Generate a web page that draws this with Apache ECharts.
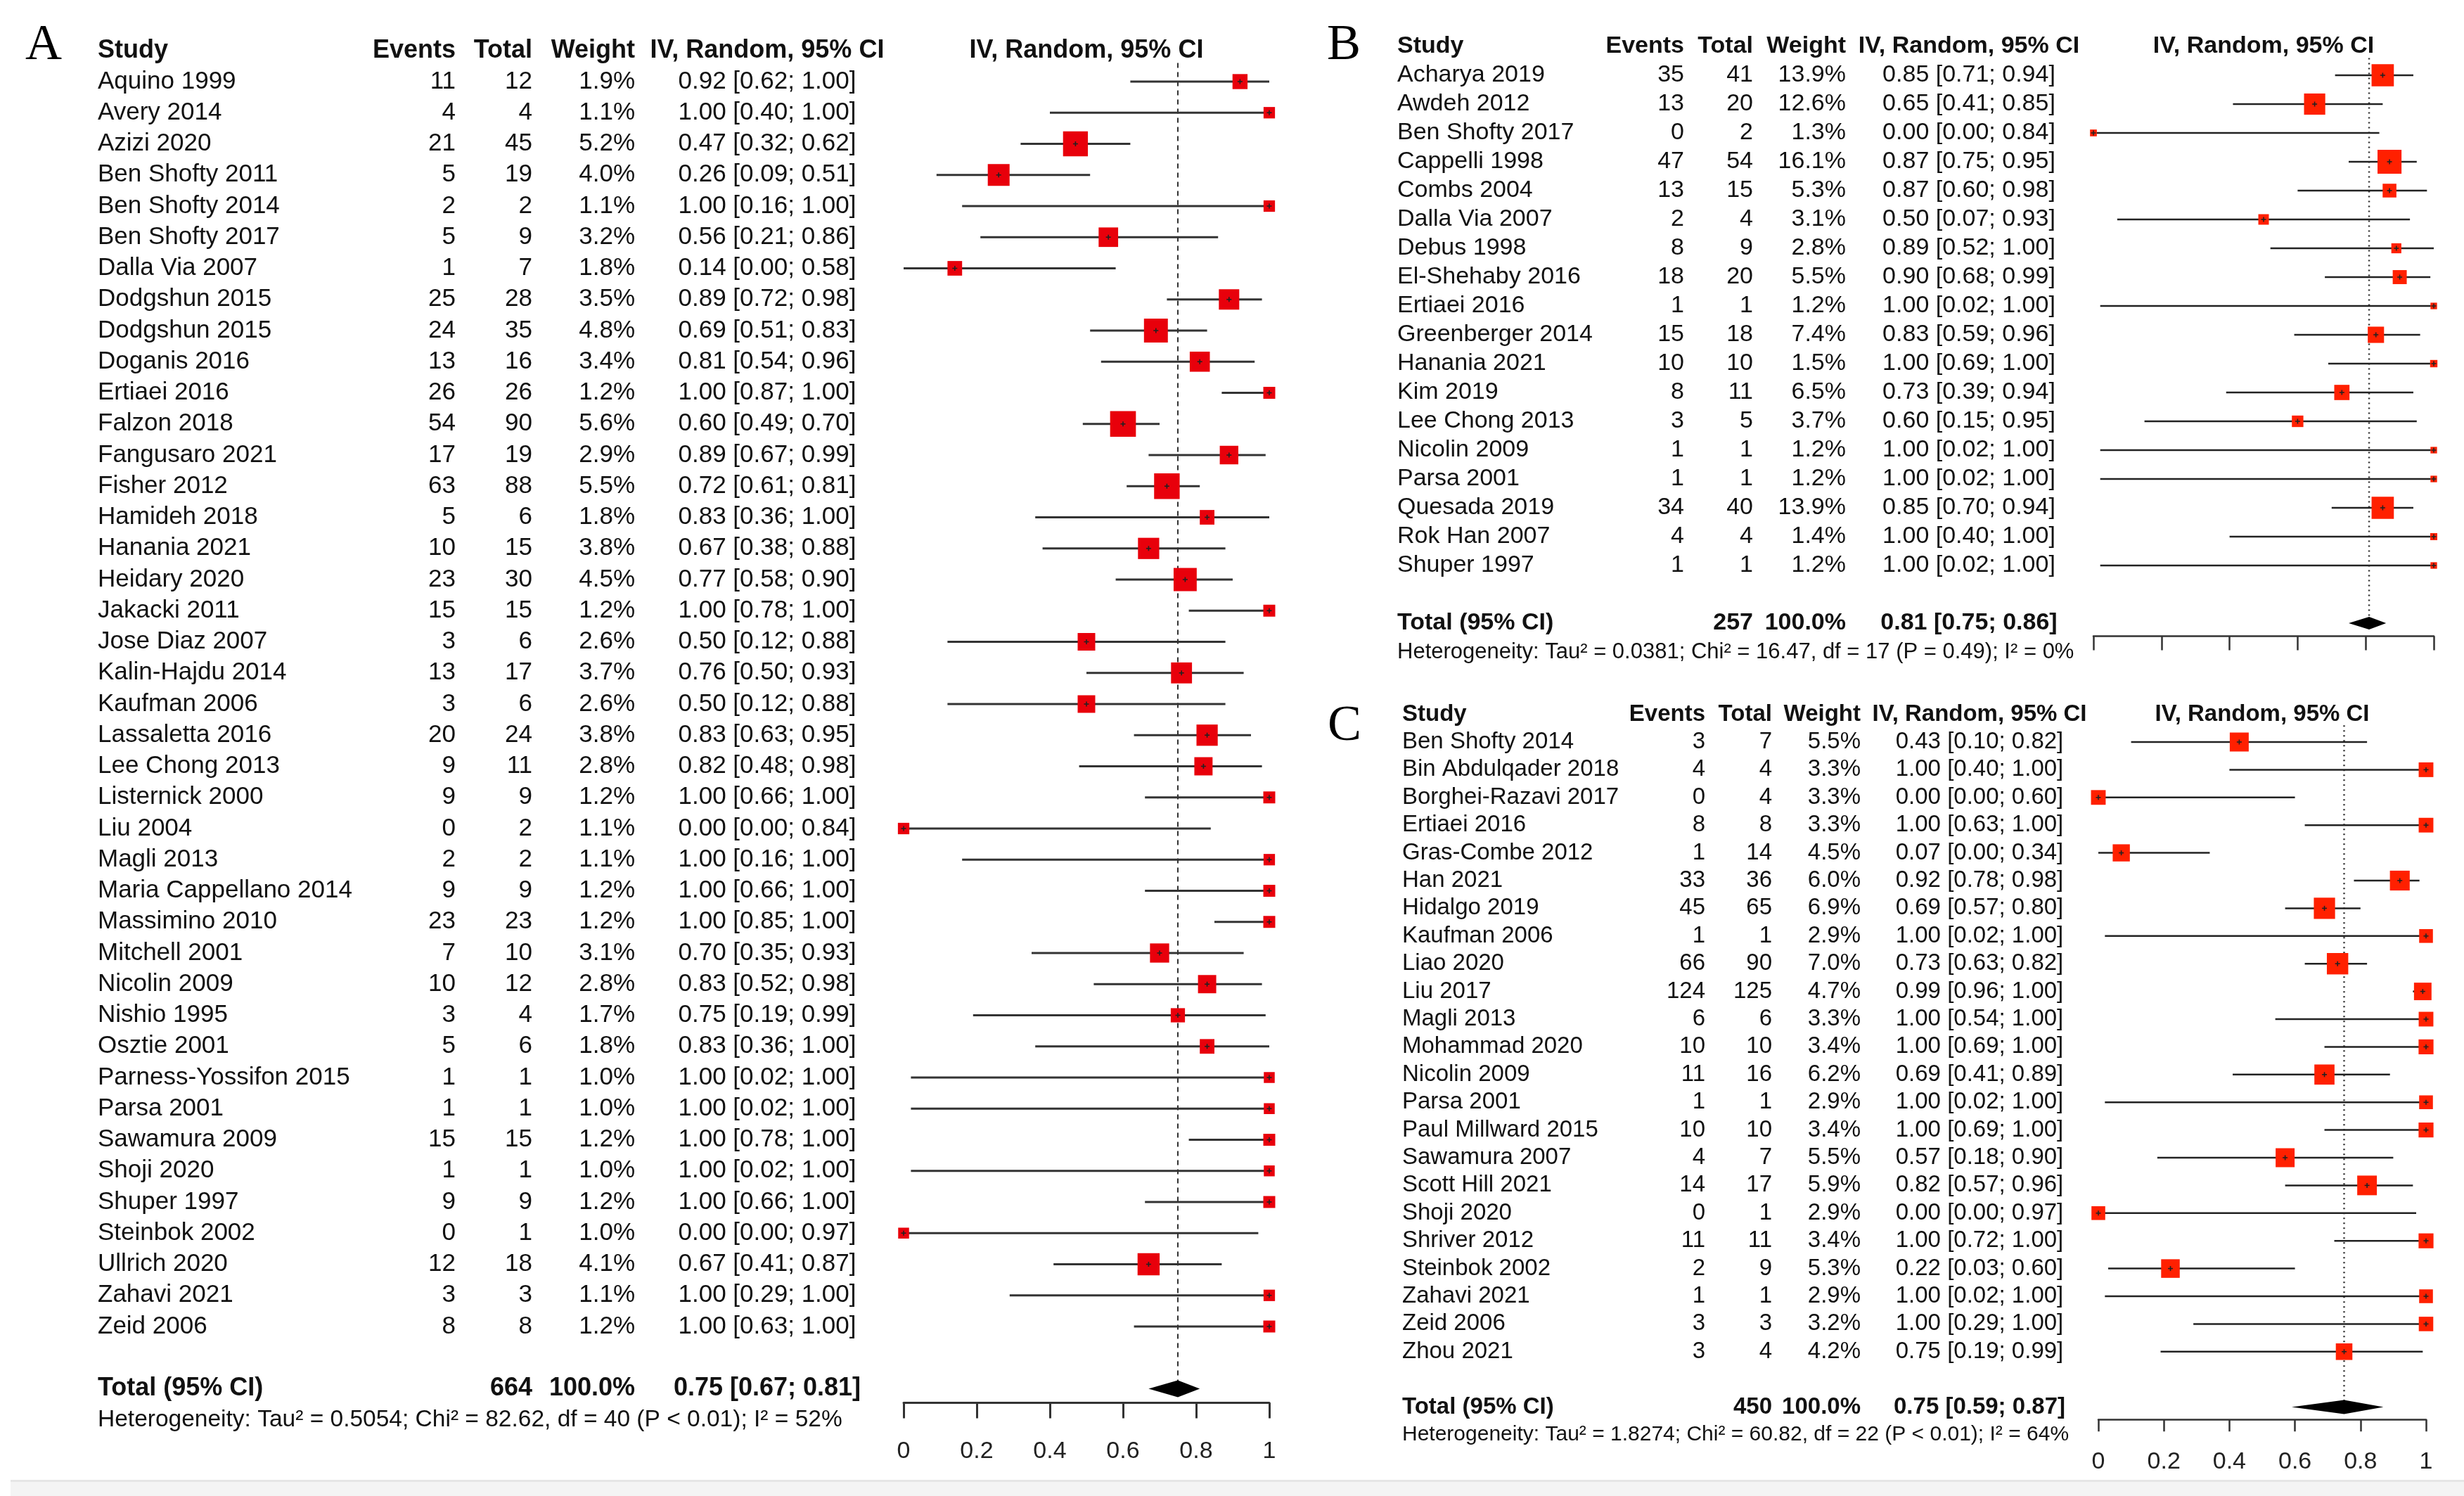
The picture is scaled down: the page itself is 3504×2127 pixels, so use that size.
<!DOCTYPE html>
<html><head><meta charset="utf-8">
<script src="https://cdn.jsdelivr.net/npm/echarts@6/dist/echarts.min.js"></script>
<style>html,body{margin:0;padding:0;background:#fff}#c{width:3504px;height:2127px}</style>
</head><body><div id="c"></div>
<script>
// ---------------- DATA ----------------
// Panel A
const aStudies = ['Aquino 1999','Avery 2014','Azizi 2020','Ben Shofty 2011','Ben Shofty 2014','Ben Shofty 2017','Dalla Via 2007','Dodgshun 2015','Dodgshun 2015','Doganis 2016','Ertiaei 2016','Falzon 2018','Fangusaro 2021','Fisher 2012','Hamideh 2018','Hanania 2021','Heidary 2020','Jakacki 2011','Jose Diaz 2007','Kalin-Hajdu 2014','Kaufman 2006','Lassaletta 2016','Lee Chong 2013','Listernick 2000','Liu 2004','Magli 2013','Maria Cappellano 2014','Massimino 2010','Mitchell 2001','Nicolin 2009','Nishio 1995','Osztie 2001','Parness-Yossifon 2015','Parsa 2001','Sawamura 2009','Shoji 2020','Shuper 1997','Steinbok 2002','Ullrich 2020','Zahavi 2021','Zeid 2006'];
const aEvents  = [11,4,21,5,2,5,1,25,24,13,26,54,17,63,5,10,23,15,3,13,3,20,9,9,0,2,9,23,7,10,3,5,1,1,15,1,9,0,12,3,8];
const aTotals  = [12,4,45,19,2,9,7,28,35,16,26,90,19,88,6,15,30,15,6,17,6,24,11,9,2,2,9,23,10,12,4,6,1,1,15,1,9,1,18,3,8];
const aWeights = [1.9,1.1,5.2,4.0,1.1,3.2,1.8,3.5,4.8,3.4,1.2,5.6,2.9,5.5,1.8,3.8,4.5,1.2,2.6,3.7,2.6,3.8,2.8,1.2,1.1,1.1,1.2,1.2,3.1,2.8,1.7,1.8,1.0,1.0,1.2,1.0,1.2,1.0,4.1,1.1,1.2];
const aEst     = [0.92,1.00,0.47,0.26,1.00,0.56,0.14,0.89,0.69,0.81,1.00,0.60,0.89,0.72,0.83,0.67,0.77,1.00,0.50,0.76,0.50,0.83,0.82,1.00,0.00,1.00,1.00,1.00,0.70,0.83,0.75,0.83,1.00,1.00,1.00,1.00,1.00,0.00,0.67,1.00,1.00];
const aLower   = [0.62,0.40,0.32,0.09,0.16,0.21,0.00,0.72,0.51,0.54,0.87,0.49,0.67,0.61,0.36,0.38,0.58,0.78,0.12,0.50,0.12,0.63,0.48,0.66,0.00,0.16,0.66,0.85,0.35,0.52,0.19,0.36,0.02,0.02,0.78,0.02,0.66,0.00,0.41,0.29,0.63];
const aUpper   = [1.00,1.00,0.62,0.51,1.00,0.86,0.58,0.98,0.83,0.96,1.00,0.70,0.99,0.81,1.00,0.88,0.90,1.00,0.88,0.93,0.88,0.95,0.98,1.00,0.84,1.00,1.00,1.00,0.93,0.98,0.99,1.00,1.00,1.00,1.00,1.00,1.00,0.97,0.87,1.00,1.00];
const aPooled  = [0.75, 0.67, 0.81];           // estimate, lower, upper
const aTotalN  = 664;
const aHet     = 'Heterogeneity: Tau² = 0.5054; Chi² = 82.62, df = 40 (P < 0.01); I² = 52%';

// Panel B
const bStudies = ['Acharya 2019','Awdeh 2012','Ben Shofty 2017','Cappelli 1998','Combs 2004','Dalla Via 2007','Debus 1998','El-Shehaby 2016','Ertiaei 2016','Greenberger 2014','Hanania 2021','Kim 2019','Lee Chong 2013','Nicolin 2009','Parsa 2001','Quesada 2019','Rok Han 2007','Shuper 1997'];
const bEvents  = [35,13,0,47,13,2,8,18,1,15,10,8,3,1,1,34,4,1];
const bTotals  = [41,20,2,54,15,4,9,20,1,18,10,11,5,1,1,40,4,1];
const bWeights = [13.9,12.6,1.3,16.1,5.3,3.1,2.8,5.5,1.2,7.4,1.5,6.5,3.7,1.2,1.2,13.9,1.4,1.2];
const bEst     = [0.85,0.65,0.00,0.87,0.87,0.50,0.89,0.90,1.00,0.83,1.00,0.73,0.60,1.00,1.00,0.85,1.00,1.00];
const bLower   = [0.71,0.41,0.00,0.75,0.60,0.07,0.52,0.68,0.02,0.59,0.69,0.39,0.15,0.02,0.02,0.70,0.40,0.02];
const bUpper   = [0.94,0.85,0.84,0.95,0.98,0.93,1.00,0.99,1.00,0.96,1.00,0.94,0.95,1.00,1.00,0.94,1.00,1.00];
const bPooled  = [0.81, 0.75, 0.86];
const bTotalN  = 257;
const bHet     = 'Heterogeneity: Tau² = 0.0381; Chi² = 16.47, df = 17 (P = 0.49); I² = 0%';

// Panel C
const cStudies = ['Ben Shofty 2014','Bin Abdulqader 2018','Borghei-Razavi 2017','Ertiaei 2016','Gras-Combe 2012','Han 2021','Hidalgo 2019','Kaufman 2006','Liao 2020','Liu 2017','Magli 2013','Mohammad 2020','Nicolin 2009','Parsa 2001','Paul Millward 2015','Sawamura 2007','Scott Hill 2021','Shoji 2020','Shriver 2012','Steinbok 2002','Zahavi 2021','Zeid 2006','Zhou 2021'];
const cEvents  = [3,4,0,8,1,33,45,1,66,124,6,10,11,1,10,4,14,0,11,2,1,3,3];
const cTotals  = [7,4,4,8,14,36,65,1,90,125,6,10,16,1,10,7,17,1,11,9,1,3,4];
const cWeights = [5.5,3.3,3.3,3.3,4.5,6.0,6.9,2.9,7.0,4.7,3.3,3.4,6.2,2.9,3.4,5.5,5.9,2.9,3.4,5.3,2.9,3.2,4.2];
const cEst     = [0.43,1.00,0.00,1.00,0.07,0.92,0.69,1.00,0.73,0.99,1.00,1.00,0.69,1.00,1.00,0.57,0.82,0.00,1.00,0.22,1.00,1.00,0.75];
const cLower   = [0.10,0.40,0.00,0.63,0.00,0.78,0.57,0.02,0.63,0.96,0.54,0.69,0.41,0.02,0.69,0.18,0.57,0.00,0.72,0.03,0.02,0.29,0.19];
const cUpper   = [0.82,1.00,0.60,1.00,0.34,0.98,0.80,1.00,0.82,1.00,1.00,1.00,0.89,1.00,1.00,0.90,0.96,0.97,1.00,0.60,1.00,1.00,0.99];
const cPooled  = [0.75, 0.59, 0.87];
const cTotalN  = 450;
const cHet     = 'Heterogeneity: Tau² = 1.8274; Chi² = 60.82, df = 22 (P < 0.01); I² = 64%';

const xTicks = [0, 0.2, 0.4, 0.6, 0.8, 1];
const headers = ['Study', 'Events', 'Total', 'Weight', 'IV, Random, 95% CI'];

// ---------------- LAYOUT / STYLE ----------------
const FONT = '"Liberation Sans", Arial, Helvetica, sans-serif';
const layouts = [
  {letter:'A', letterX:36, letterY:69, gridLeft:1285, gridWidth:520, row0:116, rowH:44.25,
   colStudy:139, colEvents:648, colTotal:757, colWeight:903, colCI:1091,
   fs:35, fsBold:36, hetFs:33.5, boxK:15.5, ciW:3, ciColor:'#333', red:'#e8000b',
   refDash:[7,6], refW:2, diamondH:12, axisW:3, tickLen:22, showLabels:true, labelMargin:52, labelFs:34},
  {letter:'B', letterX:1887, letterY:69, gridLeft:2977, gridWidth:484, row0:107, rowH:41,
   colStudy:1987, colEvents:2395, colTotal:2493, colWeight:2625, colCI:2800,
   fs:34, fsBold:34, hetFs:31, boxK:8.5, ciW:2.5, ciColor:'#222', red:'#ff2000',
   refDash:[2,5], refW:2.5, diamondH:9, axisW:2.5, tickLen:20, showLabels:false, labelMargin:43, labelFs:34},
  {letter:'C', letterX:1888, letterY:1037, gridLeft:2984, gridWidth:466, row0:1055, rowH:39.4,
   colStudy:1994, colEvents:2425, colTotal:2520, colWeight:2646, colCI:2815,
   fs:33, fsBold:33, hetFs:30, boxK:11.5, ciW:2.5, ciColor:'#222', red:'#ff2000',
   refDash:[2,5], refW:2.5, diamondH:10, axisW:2.5, tickLen:17, showLabels:true, labelMargin:43, labelFs:34}
];
const panels = [
  {studies:aStudies, events:aEvents, totals:aTotals, weights:aWeights, est:aEst, lower:aLower, upper:aUpper, pooled:aPooled, totalN:aTotalN, het:aHet},
  {studies:bStudies, events:bEvents, totals:bTotals, weights:bWeights, est:bEst, lower:bLower, upper:bUpper, pooled:bPooled, totalN:bTotalN, het:bHet},
  {studies:cStudies, events:cEvents, totals:cTotals, weights:cWeights, est:cEst, lower:cLower, upper:cUpper, pooled:cPooled, totalN:cTotalN, het:cHet}
];

function txt(x, y, s, size, bold, align) {
  return {type:'text', x:x, y:y, silent:true,
    style:{text:s, fill:'#111', fontSize:size, fontFamily:FONT, fontWeight:bold ? 'bold' : 'normal',
           align:align || 'left', verticalAlign:'middle'}};
}
const f2 = v => v.toFixed(2);
const ciText = (e, l, u) => f2(e) + ' [' + f2(l) + '; ' + f2(u) + ']';

const grids = [], xAxes = [], yAxes = [], series = [], graphics = [];

panels.forEach((p, k) => {
  const L = layouts[k];
  const n = p.studies.length;
  const yMin = -1.5, yMax = n + 1.45;
  grids.push({left:L.gridLeft, width:L.gridWidth, top:L.row0 + yMin * L.rowH,
              height:(yMax - yMin) * L.rowH, containLabel:false, outerBoundsMode:'none'});
  xAxes.push({gridIndex:k, type:'value', min:0, max:1, interval:0.2, position:'bottom',
    axisLine:{show:true, onZero:false, lineStyle:{color:'#333', width:L.axisW}},
    axisTick:{show:true, inside:false, length:L.tickLen, lineStyle:{color:'#333', width:L.axisW}},
    axisLabel:{show:L.showLabels, margin:L.labelMargin, fontSize:L.labelFs, fontFamily:FONT, color:'#222',
               formatter:v => String(+v.toFixed(1)), customValues:xTicks},
    splitLine:{show:false}});
  yAxes.push({gridIndex:k, type:'value', min:yMin, max:yMax, inverse:true, show:false});

  // reference (pooled estimate) line
  series.push({type:'line', xAxisIndex:k, yAxisIndex:k, z:1, silent:true, symbol:'none',
    data:[[p.pooled[0], -0.6], [p.pooled[0], n + 1]],
    lineStyle:{color:'#333', width:L.refW, type:L.refDash}});

  // header row
  series.push({type:'custom', xAxisIndex:k, yAxisIndex:k, z:3, silent:true, clip:false,
    data:[[0, -1]], encode:{x:0, y:1},
    renderItem:(params, api) => {
      const y = api.coord([0, api.value(1)])[1];
      const cx = api.coord([0.5, 0])[0];
      return {type:'group', children:[
        txt(L.colStudy, y, headers[0], L.fsBold, true, 'left'),
        txt(L.colEvents, y, headers[1], L.fsBold, true, 'right'),
        txt(L.colTotal, y, headers[2], L.fsBold, true, 'right'),
        txt(L.colWeight, y, headers[3], L.fsBold, true, 'right'),
        txt(L.colCI, y, headers[4], L.fsBold, true, 'center'),
        txt(cx, y, headers[4], L.fsBold, true, 'center')
      ]};
    }});

  // table text rows
  series.push({type:'custom', xAxisIndex:k, yAxisIndex:k, z:3, silent:true, clip:false,
    data:p.studies.map((s, i) => [0, i]), encode:{x:0, y:1},
    renderItem:(params, api) => {
      const i = params.dataIndex;
      const y = api.coord([0, api.value(1)])[1];
      return {type:'group', children:[
        txt(L.colStudy, y, p.studies[i], L.fs, false, 'left'),
        txt(L.colEvents, y, String(p.events[i]), L.fs, false, 'right'),
        txt(L.colTotal, y, String(p.totals[i]), L.fs, false, 'right'),
        txt(L.colWeight, y, p.weights[i].toFixed(1) + '%', L.fs, false, 'right'),
        txt(L.colCI, y, ciText(p.est[i], p.lower[i], p.upper[i]), L.fs, false, 'center')
      ]};
    }});

  // forest marks: CI line + weighted square
  series.push({type:'custom', xAxisIndex:k, yAxisIndex:k, z:2, silent:true, clip:false,
    data:p.studies.map((s, i) => [p.est[i], i, p.lower[i], p.upper[i], p.weights[i]]),
    encode:{x:0, y:1},
    renderItem:(params, api) => {
      const r = api.value(1);
      const c = api.coord([api.value(0), r]);
      const lo = api.coord([api.value(2), r]);
      const hi = api.coord([api.value(3), r]);
      const s = L.boxK * Math.sqrt(api.value(4));
      return {type:'group', children:[
        {type:'line', shape:{x1:lo[0], y1:lo[1], x2:hi[0], y2:hi[1]}, style:{stroke:L.ciColor, lineWidth:L.ciW}},
        {type:'rect', shape:{x:c[0] - s / 2, y:c[1] - s / 2, width:s, height:s}, style:{fill:L.red}},
        {type:'line', shape:{x1:c[0], y1:c[1] - 3.5, x2:c[0], y2:c[1] + 3.5}, style:{stroke:'#222', lineWidth:1.6}},
        {type:'line', shape:{x1:c[0] - 3.5, y1:c[1], x2:c[0] + 3.5, y2:c[1]}, style:{stroke:'#222', lineWidth:1.6}}
      ]};
    }});

  // pooled total row + diamond + heterogeneity
  series.push({type:'custom', xAxisIndex:k, yAxisIndex:k, z:4, silent:true, clip:false,
    data:[[p.pooled[0], n + 1, p.pooled[1], p.pooled[2]]], encode:{x:0, y:1},
    renderItem:(params, api) => {
      const r = api.value(1);
      const c = api.coord([api.value(0), r]);
      const lo = api.coord([api.value(2), r]);
      const hi = api.coord([api.value(3), r]);
      const yh = api.coord([0, r + 1])[1];
      const h = L.diamondH;
      return {type:'group', children:[
        {type:'polygon', shape:{points:[[lo[0], c[1]], [c[0], c[1] - h], [hi[0], c[1]], [c[0], c[1] + h]]},
         style:{fill:'#000'}},
        txt(L.colStudy, c[1], 'Total (95% CI)', L.fsBold, true, 'left'),
        txt(L.colTotal, c[1], String(p.totalN), L.fsBold, true, 'right'),
        txt(L.colWeight, c[1], '100.0%', L.fsBold, true, 'right'),
        txt(L.colCI, c[1], ciText(p.pooled[0], p.pooled[1], p.pooled[2]), L.fsBold, true, 'center'),
        txt(L.colStudy, yh, p.het, L.hetFs, false, 'left')
      ]};
    }});

  graphics.push({type:'text', left:L.letterX, top:L.letterY - 40, silent:true,
    style:{text:L.letter, fill:'#000', fontSize:72, fontFamily:'"Liberation Serif", "Times New Roman", serif'}});
});

graphics.push({type:'rect', left:15, top:2105, silent:true, shape:{width:3489, height:22}, style:{fill:'#f4f4f4'}});
graphics.push({type:'rect', left:15, top:2104, silent:true, shape:{width:3489, height:3}, style:{fill:'#e6e6e6'}});

const chart = echarts.init(document.getElementById('c'), null, {renderer:'canvas'});
chart.setOption({
  backgroundColor:'#ffffff',
  animation:false,
  grid:grids, xAxis:xAxes, yAxis:yAxes, series:series, graphic:graphics
});
</script>
</body></html>
